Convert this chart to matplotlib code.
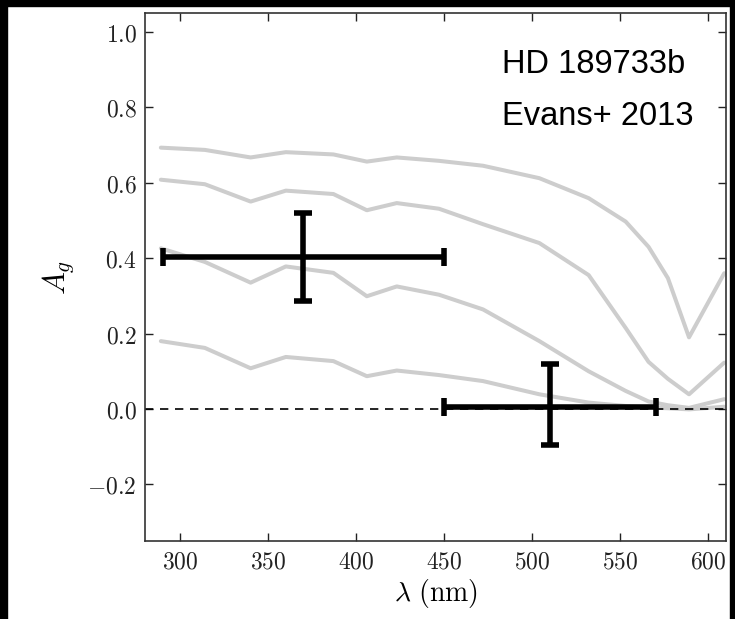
import matplotlib
matplotlib.use('Agg')
from matplotlib import pyplot as plt
from matplotlib.patches import Rectangle
from matplotlib.ticker import FuncFormatter

plt.rcParams['mathtext.fontset'] = 'cm'

# model albedo spectra (grey curves)
WAVE = [289, 314, 340, 360, 387, 406, 423, 447, 472, 504, 532, 553, 566, 577, 589, 609]
CURVE_1 = [0.693, 0.687, 0.667, 0.681, 0.675, 0.656, 0.667, 0.658, 0.645, 0.612, 0.559, 0.497, 0.43, 0.347, 0.19, 0.36]
CURVE_2 = [0.608, 0.596, 0.550, 0.579, 0.570, 0.527, 0.546, 0.531, 0.49, 0.44, 0.355, 0.215, 0.125, 0.08, 0.039, 0.123]
CURVE_3 = [0.426, 0.39, 0.335, 0.378, 0.361, 0.299, 0.325, 0.303, 0.264, 0.18, 0.10, 0.048, 0.02, 0.01, 0.003, 0.026]
CURVE_4 = [0.180, 0.162, 0.108, 0.138, 0.127, 0.087, 0.102, 0.090, 0.074, 0.039, 0.017, 0.008, 0.004, 0.002, -0.001, 0.006]
CURVES = [CURVE_1, CURVE_2, CURVE_3, CURVE_4]

# measured geometric albedo (Evans+ 2013)
OBS_X = [370, 510]
OBS_XERR = [80, 60]
OBS_Y = [0.403, 0.004]
OBS_YERR_LOW = [0.117, 0.100]
OBS_YERR_HIGH = [0.117, 0.116]

X_TICKS = [300, 350, 400, 450, 500, 550, 600]
Y_TICKS = [-0.2, 0.0, 0.2, 0.4, 0.6, 0.8, 1.0]

fig = plt.figure(figsize=(7.35, 6.19), dpi=100, facecolor='white')
ax = fig.add_axes([145 / 735, 78 / 619, 581 / 735, 528 / 619])

for curve in CURVES:
    ax.plot(WAVE, curve, color='#cdcdcd', linewidth=2.9, solid_capstyle='round', zorder=1)

ax.axhline(0.0, color='black', linewidth=1.2, linestyle=(0, (5, 4)), zorder=2)

ax.errorbar(
    OBS_X, OBS_Y, xerr=OBS_XERR, yerr=[OBS_YERR_LOW, OBS_YERR_HIGH],
    fmt='none', ecolor='black', elinewidth=4, capsize=6.5, capthick=4, zorder=3,
)

ax.text(483, 0.892, 'HD 189733b', family='Liberation Sans', fontsize=23.5, va='baseline')
ax.text(483, 0.754, 'Evans+ 2013', family='Liberation Sans', fontsize=23.5, va='baseline')

ax.set_xlim(280, 610)
ax.set_ylim(-0.35, 1.05)
ax.set_xticks(X_TICKS)
ax.set_yticks(Y_TICKS)
ax.xaxis.set_major_formatter(FuncFormatter(lambda v, p: r'$%d$' % v))
ax.yaxis.set_major_formatter(FuncFormatter(lambda v, p: r'$%.1f$' % v))
ax.tick_params(direction='in', top=True, right=True, length=6, width=1,
               labelsize=17, pad=6, colors='#222222')
for spine in ax.spines.values():
    spine.set_linewidth(1.2)
    spine.set_color('#333333')

ax.set_xlabel(r'$\lambda\ (\mathrm{nm})$', fontsize=20, labelpad=3)
ax.set_ylabel(r'$A_g$', fontsize=22, labelpad=8)

# black frame strips from the screenshot
for x0, y0, w, h in [(0, 0, 7 / 735, 1), (0, 1 - 6 / 619, 1, 6 / 619), (730 / 735, 0, 5 / 735, 1)]:
    fig.patches.append(Rectangle((x0, y0), w, h, transform=fig.transFigure,
                                 color='black', zorder=10))

fig.savefig('out.png', dpi=100, facecolor='white')
